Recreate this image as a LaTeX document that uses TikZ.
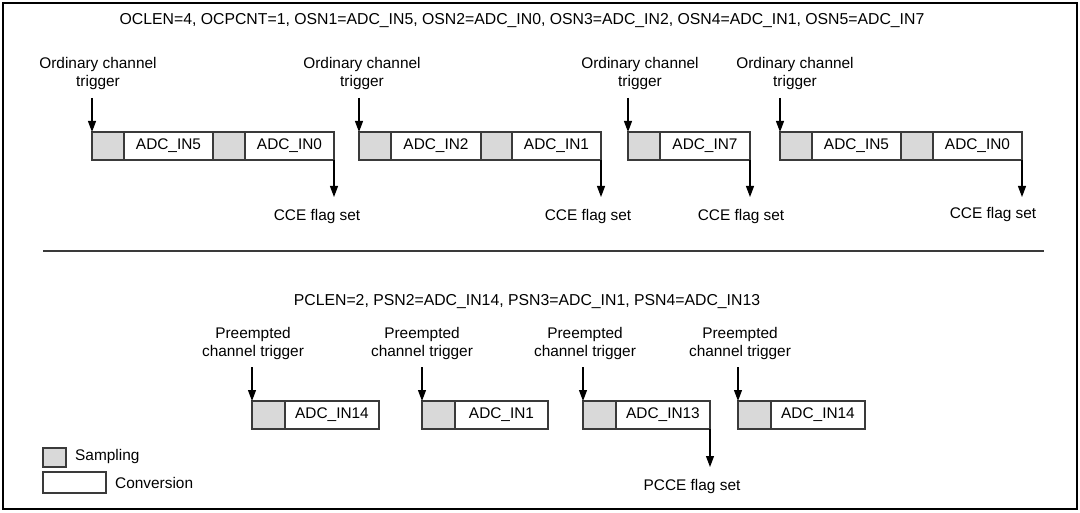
\documentclass[tikz,border=0pt]{standalone}
\usepackage{fontspec}
\setmainfont{Liberation Sans}
\usetikzlibrary{arrows.meta}
\definecolor{sampfill}{HTML}{D9D9D9}
\definecolor{lin}{HTML}{3A3A3A}
\begin{document}
\begin{tikzpicture}[x=1pt,y=-1pt,
  every node/.style={font=\fontsize{15.4}{18}\selectfont},
  samp/.style={draw=lin, line width=1.1pt, fill=sampfill, minimum width=32pt, minimum height=28pt, inner sep=0pt, outer sep=0pt, anchor=west},
  conv/.style={draw=lin, line width=1.1pt, fill=white, minimum width=89pt, minimum height=28pt, inner sep=0pt, outer sep=0pt, anchor=west},
  lbl/.style={align=center, inner sep=0pt},
  hdr/.style={inner sep=0pt, font=\fontsize{15.8}{18}\selectfont},
  arr/.style={draw=black, line width=1.1pt, -{Triangle[length=11pt,width=8pt]}}]
\useasboundingbox (0,0) rectangle (1080,513);
\draw[line width=1.6pt] (3,3) rectangle (1077,509);
\coordinate (sepL) at (43,251);
\coordinate (sepR) at (1044,251);
\draw[lin, line width=1.3pt] (sepL) -- (sepR);

\node[hdr] (hdr1) at (522,21) {OCLEN=4, OCPCNT=1, OSN1=ADC\_IN5, OSN2=ADC\_IN0, OSN3=ADC\_IN2, OSN4=ADC\_IN1, OSN5=ADC\_IN7};
\node[hdr] (hdr2) at (527,302) {PCLEN=2, PSN2=ADC\_IN14, PSN3=ADC\_IN1, PSN4=ADC\_IN13};

% Row 1
\node[samp] (s1a) at (92,146) {};
\node[conv] (c1a) at (s1a.east) {ADC\_IN5};
\node[samp] (s1b) at (c1a.east) {};
\node[conv] (c1b) at (s1b.east) {ADC\_IN0};

\node[samp] (s2a) at (359,146) {};
\node[conv, minimum width=90pt] (c2a) at (s2a.east) {ADC\_IN2};
\node[samp, minimum width=31pt] (s2b) at (c2a.east) {};
\node[conv] (c2b) at (s2b.east) {ADC\_IN1};

\node[samp] (s3) at (628,146) {};
\node[conv, minimum width=90pt] (c3) at (s3.east) {ADC\_IN7};

\node[samp] (s4a) at (780,146) {};
\node[conv] (c4a) at (s4a.east) {ADC\_IN5};
\node[samp] (s4b) at (c4a.east) {};
\node[conv] (c4b) at (s4b.east) {ADC\_IN0};

\node[lbl] (o1) at (98,74) {Ordinary channel\\trigger};
\node[lbl] (o2) at (362,74) {Ordinary channel\\trigger};
\node[lbl] (o3) at (640,74) {Ordinary channel\\trigger};
\node[lbl] (o4) at (795,74) {Ordinary channel\\trigger};
\coordinate (t1) at (92,98);
\coordinate (t2) at (359,98);
\coordinate (t3) at (628,98);
\coordinate (t4) at (780,98);
\draw[arr] (t1) -- (s1a.north west);
\draw[arr] (t2) -- (s2a.north west);
\draw[arr] (t3) -- (s3.north west);
\draw[arr] (t4) -- (s4a.north west);

\coordinate (e1) at (c1b.east |- 0,197);
\coordinate (e2) at (c2b.east |- 0,197);
\coordinate (e3) at (c3.east |- 0,197);
\coordinate (e4) at (c4b.east |- 0,197);
\draw[arr] (c1b.south east) -- (e1);
\draw[arr] (c2b.south east) -- (e2);
\draw[arr] (c3.south east) -- (e3);
\draw[arr] (c4b.south east) -- (e4);
\node[lbl] (f1) at (317,217) {CCE flag set};
\node[lbl] (f2) at (588,217) {CCE flag set};
\node[lbl] (f3) at (741,217) {CCE flag set};
\node[lbl] (f4) at (993,215) {CCE flag set};

% Row 2
\node[samp, minimum width=33pt] (sA) at (252,415) {};
\node[conv, minimum width=94pt] (cA) at (sA.east) {ADC\_IN14};
\node[samp, minimum width=33pt] (sB) at (422,415) {};
\node[conv, minimum width=93pt] (cB) at (sB.east) {ADC\_IN1};
\node[samp, minimum width=33pt] (sC) at (583,415) {};
\node[conv, minimum width=94pt] (cC) at (sC.east) {ADC\_IN13};
\node[samp, minimum width=33pt] (sD) at (738,415) {};
\node[conv, minimum width=94pt] (cD) at (sD.east) {ADC\_IN14};

\node[lbl] (pA) at (253,344) {Preempted\\channel trigger};
\node[lbl] (pB) at (422,344) {Preempted\\channel trigger};
\node[lbl] (pC) at (585,344) {Preempted\\channel trigger};
\node[lbl] (pD) at (740,344) {Preempted\\channel trigger};
\coordinate (uA) at (252,367);
\coordinate (uB) at (422,367);
\coordinate (uC) at (583,367);
\coordinate (uD) at (738,367);
\draw[arr] (uA) -- (sA.north west);
\draw[arr] (uB) -- (sB.north west);
\draw[arr] (uC) -- (sC.north west);
\draw[arr] (uD) -- (sD.north west);

\coordinate (eC) at (cC.east |- 0,467);
\draw[arr] (cC.south east) -- (eC);
\node[lbl] (pf) at (692,487) {PCCE flag set};

% Legend
\node[samp, minimum width=23pt, minimum height=19pt] (lgS) at (43,457.5) {};
\node[conv, minimum width=63pt, minimum height=21pt] (lgC) at (43,482.5) {};
\node[lbl, anchor=west] (lgSt) at (75,457) {Sampling};
\node[lbl, anchor=west] (lgCt) at (115,483) {Conversion};
\end{tikzpicture}
\end{document}
